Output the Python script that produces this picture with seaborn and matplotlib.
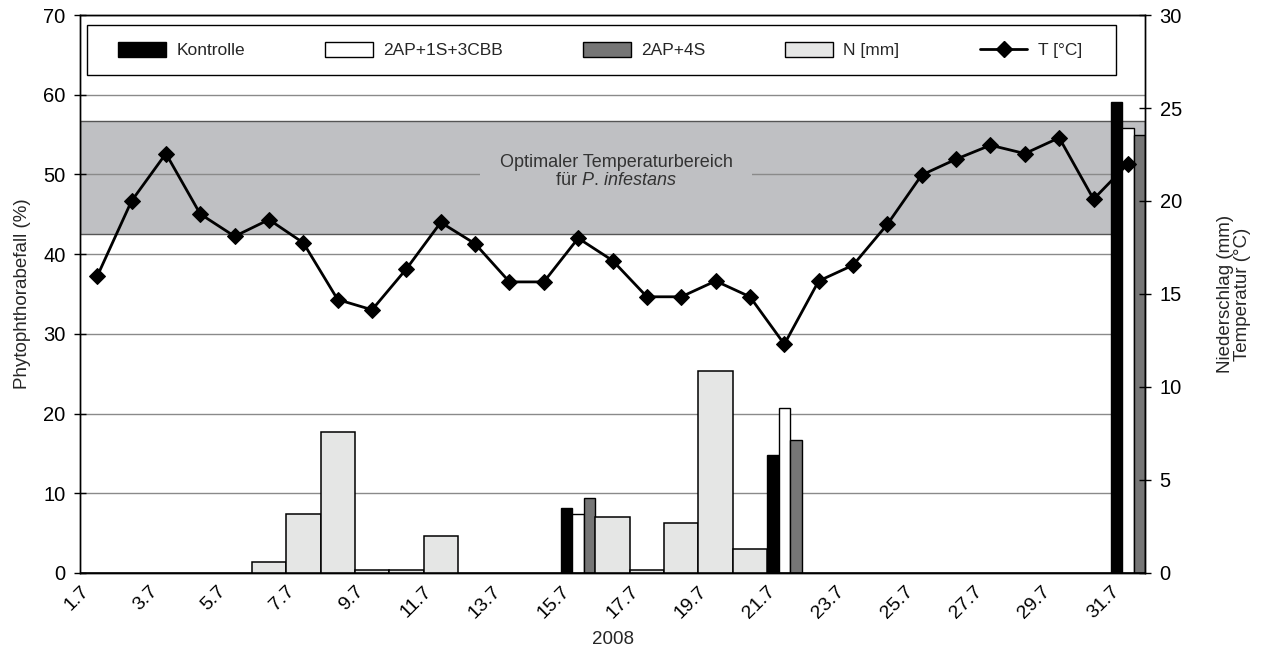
import numpy as np
import pandas as pd
import matplotlib
matplotlib.use("Agg")
import matplotlib.pyplot as plt
import matplotlib.transforms as mtransforms
from matplotlib.patches import Patch, Rectangle
from matplotlib.lines import Line2D
import seaborn as sns

# --- data (July 2008) ---
days = [f"{d}.7" for d in range(1, 32)]

# Niederschlag [mm], right axis
precip = [0, 0, 0, 0, 0, 0.6, 3.15, 7.6, 0.15, 0.15,
          2.0, 0, 0, 0, 0, 3.0, 0.15, 2.7, 10.85, 1.3,
          0, 0, 0, 0, 0, 0, 0, 0, 0, 0, 0]

# Temperatur [°C], right axis
temp = [15.95, 20.0, 22.55, 19.3, 18.1, 19.0, 17.75, 14.7, 14.15, 16.35,
        18.85, 17.7, 15.65, 15.65, 18.0, 16.8, 14.85, 14.85, 15.7, 14.85,
        12.3, 15.7, 16.55, 18.75, 21.4, 22.25, 23.0, 22.55, 23.4, 20.1, 22.0]

# Phytophthorabefall [%], left axis
rating_days = ["15.7", "21.7", "31.7"]
kontrolle = [8.1, 14.8, 59.1]
ap1s3cbb = [7.4, 20.7, 55.8]
ap4s = [9.4, 16.7, 55.0]

treatments = ["Kontrolle", "2AP+1S+3CBB", "2AP+4S"]
treat_colors = ["#000000", "#ffffff", "#767676"]
n_color = "#e5e6e5"
band_color = "#bfc0c3"
opt_range = (18.25, 24.3)  # optimaler Temperaturbereich [°C]

# --- style ---
sns.set_theme(style="white")
plt.rcParams["font.family"] = ["Liberation Sans", "DejaVu Sans"]
plt.rcParams["mathtext.fontset"] = "custom"
plt.rcParams["mathtext.rm"] = "Liberation Sans"
plt.rcParams["mathtext.it"] = "Liberation Sans:italic"

fig = plt.figure(figsize=(12.66, 6.70), dpi=100)
ax = fig.add_axes([0.0632, 0.1448, 0.8413, 0.8328])
ax2 = ax.twinx()

# treatment bars (left axis)
rating = pd.DataFrame({
    "day": rating_days * 3,
    "treatment": np.repeat(treatments, len(rating_days)),
    "befall": kontrolle + ap1s3cbb + ap4s,
})
sns.barplot(data=rating, x="day", y="befall", hue="treatment",
            order=days, hue_order=treatments, palette=treat_colors,
            width=1, edgecolor="black", linewidth=1, errorbar=None,
            legend=False, ax=ax)

# precipitation bars (right axis)
sns.barplot(x=days, y=precip, order=days, color=n_color, saturation=1,
            width=1, edgecolor="black", linewidth=1.1, errorbar=None, ax=ax2)

# temperature line (right axis)
sns.lineplot(x=np.arange(len(days)), y=temp, color="black", linewidth=2,
             marker="D", markersize=8, markeredgecolor="black", ax=ax2)

# optimal temperature band drawn under the grid of the left axis
trans = mtransforms.blended_transform_factory(ax.transAxes, ax2.transData)
ax.add_patch(Rectangle((0, opt_range[0]), 1, opt_range[1] - opt_range[0],
                       transform=trans, facecolor=band_color,
                       edgecolor="#555555", linewidth=1, zorder=0.2))
ax2.text(15.1, 21.6,
         "Optimaler Temperaturbereich\nfür $\\mathit{P.\\,infestans}$",
         ha="center", va="center", fontsize=13, color="#333333",
         linespacing=1.05,
         bbox=dict(boxstyle="square,pad=1.1", facecolor=band_color,
                   edgecolor="none"))

# axes
ax.set_xlim(-0.5, len(days) - 0.5)
ax.set_ylim(0, 70)
ax2.set_ylim(0, 30)
ax.set_yticks(np.arange(0, 71, 10))
ax2.set_yticks(np.arange(0, 31, 5))
ticks = np.arange(len(days) + 1) - 0.5
labels = [d if i % 2 == 0 else "" for i, d in enumerate(days)] + [""]
ax.set_xticks(ticks)
ax.set_xticklabels(labels, rotation=45, ha="right", rotation_mode="anchor",
                   fontsize=14)
ax.tick_params(axis="x", direction="out", length=5, width=1, pad=2,
               colors="black")
ax.tick_params(axis="y", direction="inout", length=9, width=1,
               labelsize=14.5, pad=6, colors="black")
ax2.tick_params(axis="y", direction="inout", length=9, width=1,
                labelsize=14.5, pad=6, colors="black")

ax.set_axisbelow(True)
ax.yaxis.grid(True, color="#8a8a8a", linewidth=1)
ax.xaxis.grid(False)
ax2.grid(False)

for a in (ax, ax2):
    for s in a.spines.values():
        s.set_color("black")
        s.set_linewidth(1)
        s.set_visible(True)

ax.set_xlabel("2008", fontsize=13.5, labelpad=7)
ax.set_ylabel("Phytophthorabefall (%)", fontsize=13.5, labelpad=9)
ax2.set_ylabel("Niederschlag (mm)\nTemperatur (°C)", fontsize=13.5,
               labelpad=25, linespacing=1.0)

# legend: frame drawn as its own box, entries spread inside it
ax2.add_patch(Rectangle((0.0066, 0.8925), 0.9662, 0.0895,
                        transform=ax2.transAxes, facecolor="white",
                        edgecolor="black", linewidth=1, zorder=5))
handles = [Patch(facecolor=c, edgecolor="black", linewidth=1)
           for c in treat_colors]
handles.append(Patch(facecolor=n_color, edgecolor="black", linewidth=1))
handles.append(Line2D([], [], color="black", linewidth=2, marker="D",
                      markersize=8))
leg = ax2.legend(handles, treatments + ["N [mm]", "T [°C]"], ncol=5,
                 mode="expand", loc="center",
                 bbox_to_anchor=(0.0357, 0.8925, 0.9051, 0.0895),
                 fontsize=12.5, frameon=False, handlelength=2.75,
                 handleheight=0.95, handletextpad=0.6, borderpad=0,
                 borderaxespad=0)
leg.set_zorder(6)

fig.savefig("out.png", dpi=100)
